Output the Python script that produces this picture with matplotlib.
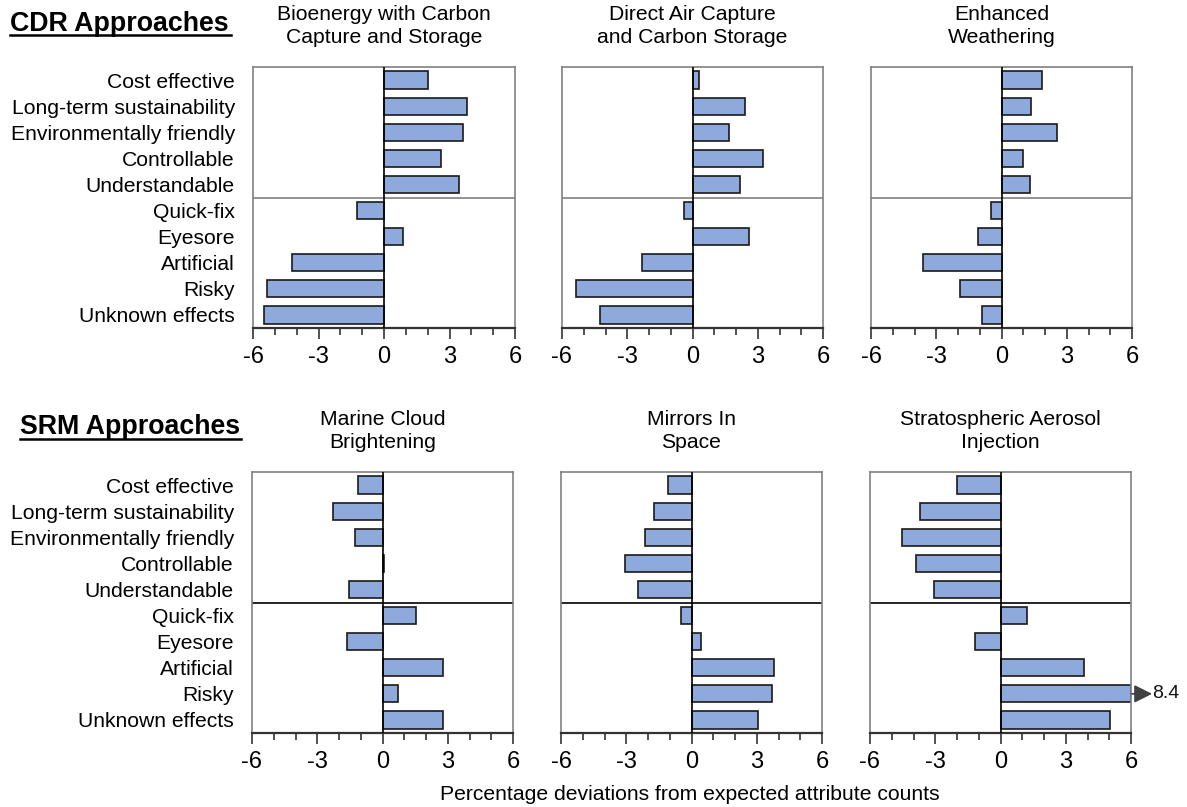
import numpy as np
import matplotlib
matplotlib.use("Agg")
import matplotlib.pyplot as plt

plt.rcParams['font.family'] = ['Liberation Sans', 'DejaVu Sans']

# ------------------------------------------------------------------
# Data
# ------------------------------------------------------------------
attributes = ["Cost effective", "Long-term sustainability", "Environmentally friendly",
              "Controllable", "Understandable", "Quick-fix", "Eyesore",
              "Artificial", "Risky", "Unknown effects"]

cdr_titles = ["Bioenergy with Carbon\nCapture and Storage",
              "Direct Air Capture\nand Carbon Storage",
              "Enhanced\nWeathering"]
srm_titles = ["Marine Cloud\nBrightening",
              "Mirrors In\nSpace",
              "Stratospheric Aerosol\nInjection"]

beccs = [2.0, 3.8, 3.6, 2.6, 3.45, -1.25, 0.87, -4.2, -5.35, -5.5]
dacs = [0.3, 2.4, 1.7, 3.25, 2.2, -0.37, 2.6, -2.33, -5.35, -4.27]
weathering = [1.85, 1.35, 2.53, 1.0, 1.3, -0.47, -1.1, -3.6, -1.9, -0.9]
mcb = [-1.12, -2.27, -1.25, 0.08, -1.53, 1.52, -1.65, 2.78, 0.7, 2.8]
mirrors = [-1.06, -1.73, -2.12, -3.07, -2.48, -0.5, 0.42, 3.8, 3.7, 3.08]
sai = [-2.0, -3.7, -4.55, -3.87, -3.05, 1.23, -1.17, 3.82, 8.4, 5.02]

xticks = [-6, -3, 0, 3, 6]
xlabel = "Percentage deviations from expected attribute counts"

BAR = "#8EAADC"
GREY = "#808080"
FS = 15.2

W, H = 1187, 807
fig = plt.figure(figsize=(W / 100, H / 100), dpi=100)


def add_ax(x0, y0, x1, y1):
    return fig.add_axes([x0 / W, 1 - y1 / H, (x1 - x0) / W, (y1 - y0) / H])


def panel(ax, vals, title, sep_color, show_labels):
    y = np.arange(len(vals))
    shown = [min(max(v, -6), 6) for v in vals]
    ax.barh(y, shown, height=0.66, color=BAR, edgecolor="#1a1a1a", linewidth=1.2, zorder=2)
    ax.set_xlim(-6, 6)
    ax.set_ylim(len(vals) - 0.5, -0.5)
    ax.axvline(0, color="black", lw=1.2, zorder=3)
    ax.axhline(4.5, color=sep_color, lw=1.2, zorder=1)
    ax.set_xticks(xticks)
    ax.set_xticklabels([str(t) for t in xticks], fontsize=17)
    ax.set_xticks(np.arange(-6, 7, 1), minor=True)
    ax.tick_params(axis="x", which="major", length=8, width=1.2, color="#333333", pad=5)
    ax.tick_params(axis="x", which="minor", length=5, width=1.2, color="#333333")
    if show_labels:
        ax.set_yticks(y)
        ax.set_yticklabels(attributes, fontsize=FS)
        ax.tick_params(axis="y", length=0, pad=13)
    else:
        ax.set_yticks([])
    for s in ["top", "left", "right"]:
        ax.spines[s].set_color(GREY)
        ax.spines[s].set_linewidth(1.2)
    ax.spines["bottom"].set_color("#333333")
    ax.spines["bottom"].set_linewidth(1.6)
    ax.set_title(title, fontsize=FS, pad=17, linespacing=1.3)
    # values beyond the axis get an arrow and a label
    for i, v in enumerate(vals):
        if v > 6:
            ax.annotate("", xy=(6.97, i), xytext=(6.05, i),
                        arrowprops=dict(arrowstyle="-|>,head_length=0.6,head_width=0.3",
                                        color="#404040", lw=1.3,
                                        mutation_scale=18, shrinkA=0, shrinkB=0),
                        annotation_clip=False)
            ax.text(6.99, i, f"{v:.1f}", fontsize=14, va="center", ha="left",
                    color="#111111", clip_on=False)


cdr = [beccs, dacs, weathering]
srm = [mcb, mirrors, sai]
top_x = [(253, 515), (562, 823), (871, 1132)]
bot_x = [(252, 513), (561, 822), (870, 1131)]

for k in range(3):
    ax = add_ax(top_x[k][0], 67, top_x[k][1], 328)
    panel(ax, cdr[k], cdr_titles[k], GREY, k == 0)
for k in range(3):
    ax = add_ax(bot_x[k][0], 472, bot_x[k][1], 733)
    panel(ax, srm[k], srm_titles[k], "black", k == 0)

fig.text(10 / W, 1 - 31 / H, "CDR Approaches", fontsize=19.3, fontweight="bold",
         va="baseline", ha="left")
fig.text(20 / W, 1 - 434 / H, "SRM Approaches", fontsize=19.3, fontweight="bold",
         va="baseline", ha="left")
# underline the section headers
fig.add_artist(plt.Line2D([10 / W, 231 / W], [1 - 35 / H, 1 - 35 / H], color="black", lw=1.8))
fig.add_artist(plt.Line2D([20 / W, 241 / W], [1 - 439 / H, 1 - 439 / H], color="black", lw=1.8))

fig.text(690 / W, 1 - 794 / H, xlabel, fontsize=FS, ha="center", va="center")

fig.savefig("out.png", dpi=100)
